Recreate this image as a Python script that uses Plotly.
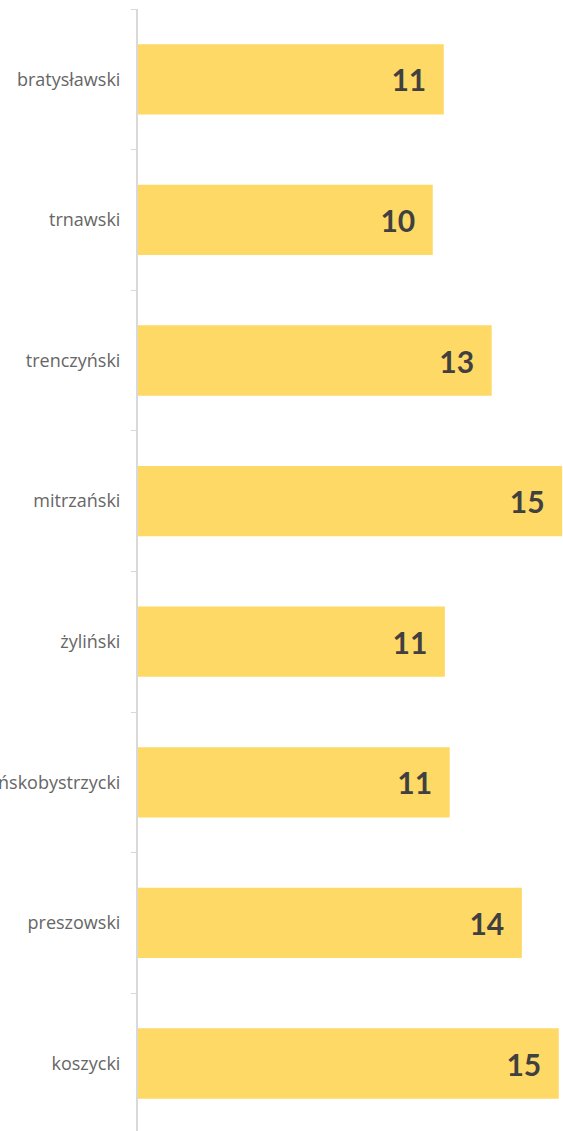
import plotly.graph_objects as go

# regiony (kraje) Słowacji, od góry do dołu
regions = ["bratysławski", "trnawski", "trenczyński", "mitrzański",
           "żyliński", "bańskobystrzycki", "preszowski", "koszycki"]
values = [10.85, 10.46, 12.55, 15.05, 10.89, 11.06, 13.62, 14.93]

fig = go.Figure(go.Bar(
    x=values,
    y=regions,
    orientation="h",
    marker=dict(color="#FFD966", line_width=0),
    texttemplate="%{x:.0f}&nbsp;&nbsp;",
    textposition="inside",
    insidetextanchor="end",
    textfont=dict(family="Lato", size=30, color="#404040", weight="bold"),
    width=0.5,
))

fig.update_layout(
    width=563, height=1131,
    margin=dict(l=138, r=0, t=9, b=0),
    plot_bgcolor="white", paper_bgcolor="white",
    showlegend=False,
    font=dict(family="Open Sans", size=18, color="#666666"),
    xaxis=dict(range=[0, 15.08], visible=False, fixedrange=True),
    yaxis=dict(
        categoryorder="array", categoryarray=regions,
        range=[7.48, -0.5],
        showline=True, linecolor="#D9D9D9", linewidth=2,
        ticks="outside", tickson="boundaries", ticklen=5,
        tickcolor="#D9D9D9", tickwidth=1,
        ticklabelstandoff=12,
        automargin=False, showgrid=False, fixedrange=True,
    ),
)

# strona bez domyślnego marginesu body
fig.write_html("out.html", config={"displayModeBar": False},
               post_script="document.body.style.margin='0';")
